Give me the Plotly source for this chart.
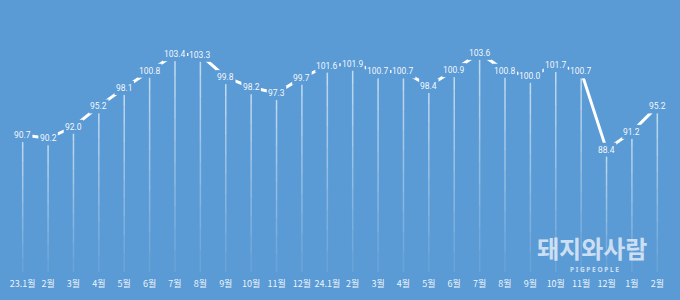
import plotly.graph_objects as go

months = ["23.1월", "2월", "3월", "4월", "5월", "6월", "7월", "8월", "9월", "10월", "11월", "12월",
          "24.1월", "2월", "3월", "4월", "5월", "6월", "7월", "8월", "9월", "10월", "11월", "12월",
          "1월", "2월"]
values = [90.7, 90.2, 92.0, 95.2, 98.1, 100.8, 103.4, 103.3, 99.8, 98.2, 97.3, 99.7,
          101.6, 101.9, 100.7, 100.7, 98.4, 100.9, 103.6, 100.8, 100.0, 101.7, 100.7, 88.4,
          91.2, 95.2]

BG = "#5B9BD5"
BASE = 69.2
YMAX = 105
xs = list(range(len(values)))

fig = go.Figure()

# gradient drop lines
N = 10
for i in range(N):
    lx, ly = [], []
    for x, v in zip(xs, values):
        top = v - (v - BASE) * i / N
        bot = v - (v - BASE) * (i + 1) / N
        lx += [x, x, None]
        ly += [top, bot, None]
    alpha = 0.6 * (1 - i / N) + 0.03
    fig.add_trace(go.Scatter(x=lx, y=ly, mode="lines", hoverinfo="skip",
                             line=dict(color=f"rgba(255,255,255,{alpha:.3f})", width=1.5),
                             showlegend=False))

fig.add_trace(go.Scatter(x=xs, y=values, mode="lines", hoverinfo="skip",
                         line=dict(color="white", width=3), showlegend=False))

LABEL_FONT = "Roboto"
for x, v in zip(xs, values):
    txt = f"{v:.1f}"
    ndig = len(txt) - 1
    hw = (ndig * 4.5 + 2) / 2 + 2
    # background mask behind label (like Excel label fill)
    fig.add_shape(type="rect", xref="x", yref="y", xsizemode="pixel", ysizemode="pixel",
                  xanchor=x, yanchor=v, x0=-hw, x1=hw, y0=-7, y1=7,
                  fillcolor=BG, line=dict(width=0), layer="above")
    fig.add_annotation(x=x, y=v, text=txt, showarrow=False, yshift=0,
                       xanchor="center", yanchor="middle",
                       font=dict(family=LABEL_FONT, size=8.5, color="rgba(255,255,255,0.95)"))

# watermark
fig.add_annotation(xref="paper", yref="paper", x=0.882, y=0.107, text="<b>돼지와사람</b>",
                   xanchor="center", yanchor="middle",
                   showarrow=False, font=dict(family="Noto Sans CJK KR", size=24,
                                              color="rgba(225,236,248,0.85)"))
fig.add_annotation(xref="paper", yref="paper", x=0.886, y=0.009, text="<b>P I G P E O P L E</b>",
                   xanchor="center", yanchor="middle",
                   showarrow=False, font=dict(family="Noto Sans", size=6.5,
                                              color="rgba(225,236,248,0.85)"))

fig.update_layout(
    width=680, height=300,
    margin=dict(l=10, r=10, t=44, b=22),
    paper_bgcolor=BG, plot_bgcolor=BG,
    xaxis=dict(range=[-0.5, len(values) - 0.5], tickvals=xs, ticktext=months,
               showgrid=False, zeroline=False, showline=False, ticks="",
               ticklabelstandoff=5,
               tickfont=dict(family="Noto Sans CJK KR", size=9, color="rgba(255,255,255,0.9)")),
    yaxis=dict(range=[BASE, YMAX], visible=False),
)

fig.write_html("out.html")
